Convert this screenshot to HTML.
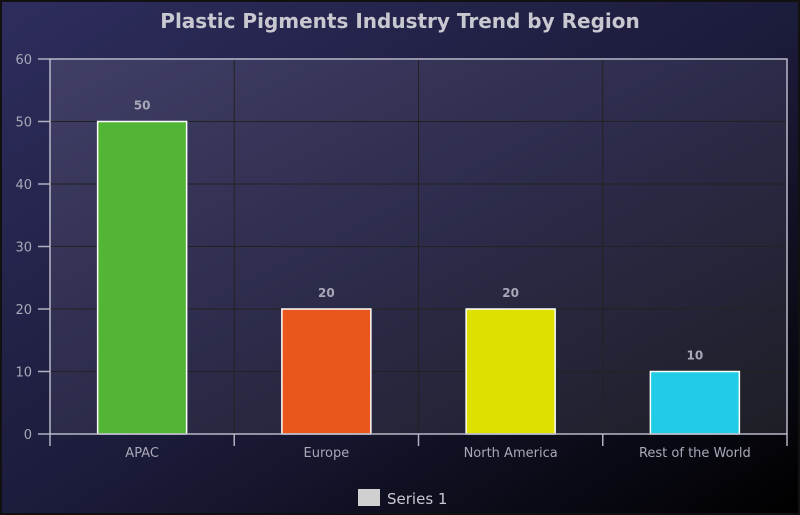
<!DOCTYPE html>
<html><head><meta charset="utf-8"><style>
html,body{margin:0;padding:0;width:800px;height:515px;overflow:hidden;background:#000}
svg{display:block}
text{font-family:"DejaVu Sans","Liberation Sans",sans-serif}
</style></head><body>
<svg id="chart" width="800" height="515">
<defs>
<linearGradient id="bg" x1="0" y1="0" x2="1" y2="1">
<stop offset="0" stop-color="#2e2d5e"/><stop offset="0.55" stop-color="#1a1a38"/><stop offset="1" stop-color="#000000"/>
</linearGradient>
<linearGradient id="pg" x1="0" y1="0" x2="1" y2="1">
<stop offset="0" stop-color="#403e66"/><stop offset="0.5" stop-color="#2c2b4a"/><stop offset="1" stop-color="#1e1e26"/>
</linearGradient>
</defs>
<rect x="0" y="0" width="800" height="515" fill="#111"/>
<rect x="2" y="2" width="796" height="511" fill="url(#bg)"/>
<text x="400" y="28" text-anchor="middle" font-size="20" font-weight="bold" fill="#c8c8d0">Plastic Pigments Industry Trend by Region</text>
<rect x="50" y="59" width="737" height="375" fill="url(#pg)"/>
<g id="grid"></g><g id="bars"></g><g id="axes"></g>
<rect x="358" y="489" width="22" height="17" fill="#d0d0d0"/>
<text x="387" y="504" font-size="15" fill="#c8c8d0">Series 1</text>
</svg>
<script>
const categories=["APAC","Europe","North America","Rest of the World"];
const values=[50,20,20,10];
const colors=["#52b536","#eb561c","#dde000","#22cce6"];
const yTicks=[0,10,20,30,40,50,60];
const L=50,R=787,T=59,B=434,yMax=60;
const ns="http://www.w3.org/2000/svg";
function y(v){return B-(v/yMax)*(B-T);}
const bw=(R-L)/categories.length;
function xc(i){return L+bw*(i+0.5);}
function mk(tag,a,parent){const e=document.createElementNS(ns,tag);for(const k in a)e.setAttribute(k,a[k]);document.getElementById(parent).appendChild(e);return e;}
yTicks.forEach(t=>{
 if(t>0&&t<yMax){const g=mk("line",{x1:L,x2:R,y1:y(t),y2:y(t),stroke:"#222",'stroke-width':1},"grid");
 
 }
 const tk=mk("line",{x1:L-12,x2:L,y1:y(t),y2:y(t),stroke:"#b0b0c0",'stroke-width':1.5},"axes");
 
 
 const tl=mk("text",{x:L-18,y:y(t)+5,'text-anchor':'end','font-size':13,fill:'#a8a8b8'},"axes");tl.textContent=t;
 
 
});
for(let i=1;i<categories.length;i++){const g=mk("line",{x1:L+bw*i,x2:L+bw*i,y1:T,y2:B,stroke:"#222",'stroke-width':1},"grid");
 
 }
categories.forEach((c,i)=>{
 const w=89,x=xc(i)-w/2;
 const r=mk("rect",{x:x,y:y(values[i]),width:w,height:B-y(values[i]),fill:colors[i],stroke:"#fff",'stroke-width':1.5},"bars");
 
 
 const v=mk("text",{x:xc(i),y:y(values[i])-12,'text-anchor':'middle','font-size':12,'font-weight':'bold',fill:'#a8a8b8'},"bars");v.textContent=values[i];
 
 
 const l=mk("text",{x:xc(i),y:B+23,'text-anchor':'middle','font-size':13,fill:'#a8a8b8'},"axes");l.textContent=c;
 
 
});
for(let i=0;i<=categories.length;i++){const t=mk("line",{x1:L+bw*i,x2:L+bw*i,y1:B,y2:B+12,stroke:"#b0b0c0",'stroke-width':1.5},"axes");
 
 }
const ax=mk("path",{d:`M${L} ${T}H${R}V${B}H${L}Z`,fill:'none',stroke:'#b8b8c8','stroke-width':1.5},"axes");


</script>
</body></html>
